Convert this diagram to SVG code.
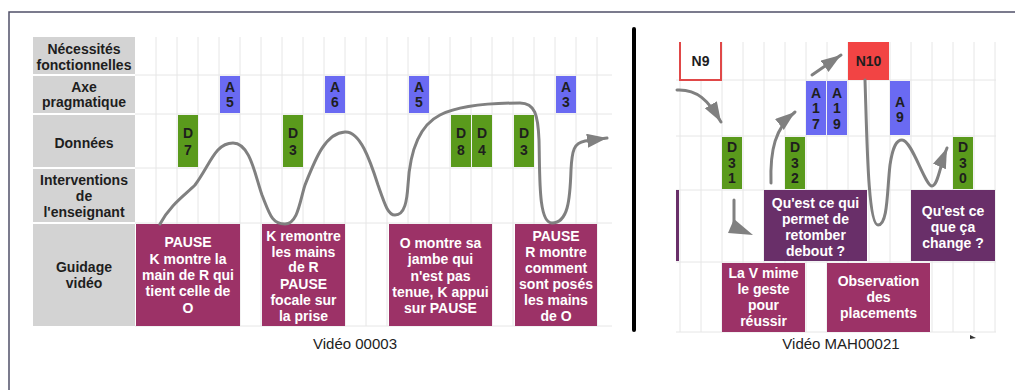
<svg xmlns="http://www.w3.org/2000/svg" width="1015" height="390" viewBox="0 0 1015 390">
<defs>
<style>
.t{font-family:"Liberation Sans",Arial,sans-serif;font-size:14px;font-weight:bold;text-anchor:middle;fill:#1e1e1e}
.w{font-family:"Liberation Sans",Arial,sans-serif;font-size:14px;font-weight:bold;text-anchor:middle;fill:#ffffff}
.cap{font-family:"Liberation Sans",Arial,sans-serif;font-size:15px;text-anchor:middle;fill:#222}
.hd{fill:#d3d3d3}
.a{fill:#6a6af2}
.d{fill:#5a9a1c}
.m{fill:#9c3267}
.p{fill:#692f69}
.g{stroke:#e6e6e6;stroke-width:1;fill:none}
.c{stroke:#808080;stroke-width:3;fill:none;stroke-linecap:round}
</style>
<marker id="ah" markerUnits="userSpaceOnUse" markerWidth="22" markerHeight="16" refX="20" refY="7" orient="auto" viewBox="0 0 22 16">
<path d="M0,0 L20,7 L0,14 z" fill="#808080"/>
</marker>
</defs>
<rect width="1015" height="390" fill="#ffffff"/>
<path d="M9,390 L9,12 L1015,12" stroke="#505068" stroke-width="1.5" fill="none"/>

<!-- left grid -->
<g id="left-grid">
<path class="g" d="M156,37V326M177,37V326M198,37V326M219,37V326M240,37V326M261,37V326M282,37V326M303,37V326M324,37V326M345,37V326M366,37V326M387,37V326M408,37V326M429,37V326M450,37V326M471,37V326M492,37V326M513,37V326M534,37V326M555,37V326M576,37V326M597,37V326M135,75H612M135,114H612M135,168H612M135,223H612M135,326H612"/>
</g>

<g id="left-headers">
<rect class="hd" x="33" y="37" width="102" height="37"/>
<rect class="hd" x="33" y="76" width="102" height="37"/>
<rect class="hd" x="33" y="115" width="102" height="52"/>
<rect class="hd" x="33" y="169" width="102" height="53"/>
<rect class="hd" x="33" y="224" width="102" height="102"/>
<text class="t" x="84" y="54">Nécessités</text>
<text class="t" x="84" y="70">fonctionnelles</text>
<text class="t" x="84" y="92">Axe</text>
<text class="t" x="84" y="107">pragmatique</text>
<text class="t" x="84" y="148">Données</text>
<text class="t" x="84" y="185">Interventions</text>
<text class="t" x="84" y="201">de</text>
<text class="t" x="84" y="217">l'enseignant</text>
<text class="t" x="84" y="272">Guidage</text>
<text class="t" x="84" y="288">vidéo</text>
</g>

<g id="L-A5a"><rect class="a" x="220" y="76" width="20" height="37"/><text class="t" x="230" y="92">A</text><text class="t" x="230" y="107">5</text></g>
<g id="L-A6"><rect class="a" x="325" y="76" width="20" height="37"/><text class="t" x="335" y="92">A</text><text class="t" x="335" y="107">6</text></g>
<g id="L-A5b"><rect class="a" x="409" y="76" width="20" height="37"/><text class="t" x="419" y="92">A</text><text class="t" x="419" y="107">5</text></g>
<g id="L-A3"><rect class="a" x="556" y="76" width="20" height="37"/><text class="t" x="566" y="92">A</text><text class="t" x="566" y="107">3</text></g>

<g id="L-D7"><rect class="d" x="178" y="115" width="20" height="52"/><text class="t" x="188" y="138">D</text><text class="t" x="188" y="155">7</text></g>
<g id="L-D3a"><rect class="d" x="283" y="115" width="20" height="52"/><text class="t" x="293" y="138">D</text><text class="t" x="293" y="155">3</text></g>
<g id="L-D8"><rect class="d" x="451" y="115" width="20" height="52"/><text class="t" x="461" y="138">D</text><text class="t" x="461" y="155">8</text></g>
<g id="L-D4"><rect class="d" x="472" y="115" width="20" height="52"/><text class="t" x="482" y="138">D</text><text class="t" x="482" y="155">4</text></g>
<g id="L-D3b"><rect class="d" x="514" y="115" width="20" height="52"/><text class="t" x="524" y="138">D</text><text class="t" x="524" y="155">3</text></g>

<g id="L-G1"><rect class="m" x="136" y="224" width="104" height="102"/>
<text class="w" x="188" y="247">PAUSE</text><text class="w" x="188" y="264">K montre la</text><text class="w" x="188" y="280">main de R qui</text><text class="w" x="188" y="296">tient celle de</text><text class="w" x="188" y="313">O</text></g>
<g id="L-G2"><rect class="m" x="262" y="224" width="83" height="102"/>
<text class="w" x="303.5" y="241">K remontre</text><text class="w" x="303.5" y="257">les mains</text><text class="w" x="303.5" y="272">de R</text><text class="w" x="303.5" y="289">PAUSE</text><text class="w" x="303.5" y="305">focale sur</text><text class="w" x="303.5" y="321">la prise</text></g>
<g id="L-G3"><rect class="m" x="389" y="224" width="103" height="102"/>
<text class="w" x="440.5" y="248">O montre sa</text><text class="w" x="440.5" y="264">jambe qui</text><text class="w" x="440.5" y="281">n'est pas</text><text class="w" x="440.5" y="297">tenue, K appui</text><text class="w" x="440.5" y="313">sur PAUSE</text></g>
<g id="L-G4"><rect class="m" x="515" y="224" width="82" height="102"/>
<text class="w" x="556" y="241">PAUSE</text><text class="w" x="556" y="257">R montre</text><text class="w" x="556" y="273">comment</text><text class="w" x="556" y="289">sont posés</text><text class="w" x="556" y="305">les mains</text><text class="w" x="556" y="321">de O</text></g>

<text class="cap" x="355" y="349">Vidéo 00003</text>

<line x1="634" y1="29" x2="634" y2="330" stroke="#000" stroke-width="4" stroke-linecap="round"/>

<!-- right grid -->
<g id="right-grid">
<path class="g" d="M680,42V332M701,42V332M722,42V332M743,42V332M764,42V332M785,42V332M806,42V332M827,42V332M848,42V332M869,42V332M890,42V332M911,42V332M932,42V332M953,42V332M974,42V332M995,42V332M676,80H996M676,136H996M676,190H996M676,262H996M676,332H996"/>
</g>

<g id="R-N9"><path d="M680,42V80H721V42" fill="#fff" stroke="#e04848" stroke-width="2"/><text class="t" x="700.5" y="66">N9</text></g>
<g id="R-N10"><rect x="848" y="42" width="41" height="38" fill="#f24444"/><text class="t" x="868.5" y="66">N10</text></g>
<g id="R-A17"><rect class="a" x="806" y="81" width="20" height="54"/><text class="t" x="816" y="98">A</text><text class="t" x="816" y="113">1</text><text class="t" x="816" y="129">7</text></g>
<g id="R-A19"><rect class="a" x="827" y="81" width="20" height="54"/><text class="t" x="837" y="98">A</text><text class="t" x="837" y="113">1</text><text class="t" x="837" y="129">9</text></g>
<g id="R-A9"><rect class="a" x="890" y="81" width="20" height="54"/><text class="t" x="900" y="107">A</text><text class="t" x="900" y="122">9</text></g>
<g id="R-D31"><rect class="d" x="722" y="137" width="20" height="52"/><text class="t" x="732" y="152">D</text><text class="t" x="732" y="168">3</text><text class="t" x="732" y="183">1</text></g>
<g id="R-D32"><rect class="d" x="785" y="137" width="20" height="52"/><text class="t" x="795" y="152">D</text><text class="t" x="795" y="168">3</text><text class="t" x="795" y="183">2</text></g>
<g id="R-D30"><rect class="d" x="953" y="137" width="20" height="52"/><text class="t" x="963" y="152">D</text><text class="t" x="963" y="168">3</text><text class="t" x="963" y="183">0</text></g>

<g id="R-bar"><rect class="p" x="676" y="190" width="3" height="71"/></g>
<g id="R-Q1"><rect class="p" x="764" y="190" width="103" height="71"/>
<text class="w" x="815.5" y="208">Qu'est ce qui</text><text class="w" x="815.5" y="224">permet de</text><text class="w" x="815.5" y="240">retomber</text><text class="w" x="815.5" y="256">debout ?</text></g>
<g id="R-Q2"><rect class="p" x="911" y="190" width="84" height="71"/>
<text class="w" x="953" y="216">Qu'est ce</text><text class="w" x="953" y="232">que ça</text><text class="w" x="953" y="248">change ?</text></g>
<g id="R-V"><rect class="m" x="722" y="263" width="83" height="69"/>
<text class="w" x="763.5" y="278">La V mime</text><text class="w" x="763.5" y="294">le geste</text><text class="w" x="763.5" y="310">pour</text><text class="w" x="763.5" y="326">réussir</text></g>
<g id="R-O"><rect class="m" x="827" y="263" width="103" height="69"/>
<text class="w" x="878.5" y="286">Observation</text><text class="w" x="878.5" y="302">des</text><text class="w" x="878.5" y="318">placements</text></g>

<text class="cap" x="841" y="349">Vidéo MAH00021</text>
<path d="M970,335 L976,338 L970,339 z" fill="#333"/>

<g id="connectors">
<path class="c" marker-end="url(#ah)" d="M160,224 C170,205 185,195 195,185 C210,165 215,143 233,143 C250,143 255,175 262,195 C270,215 272,224 285,224 C298,224 300,200 305,185 C315,160 325,133 345,132 C360,131 370,160 378,185 C385,205 388,215 395,215 C405,215 407,200 408,185 C410,150 420,125 440,115 C460,105 490,103 520,103 C535,103 538,115 539,140 C540,175 538,223 552,223 C568,223 570,200 571,170 C572,150 574,143 585,141 L607,138"/>
<path class="c" marker-end="url(#ah)" d="M677,90 C697,89 708,100 721,122"/>
<path class="c" d="M734,200 L734,224"/>
<polygon points="734,219 728,233 753,235" fill="#808080"/>
<path class="c" marker-end="url(#ah)" d="M771,183 C770,150 775,128 795,112"/>
<path class="c" marker-end="url(#ah)" d="M812,75 L841,55"/>
<path class="c" marker-end="url(#ah)" d="M865,80 C867,140 868,225 878,225 C888,225 887,190 890,165 C893,145 897,140 902,140 C912,140 925,186 932,186 C938,186 940,165 947,148"/>
</g>
</svg>
